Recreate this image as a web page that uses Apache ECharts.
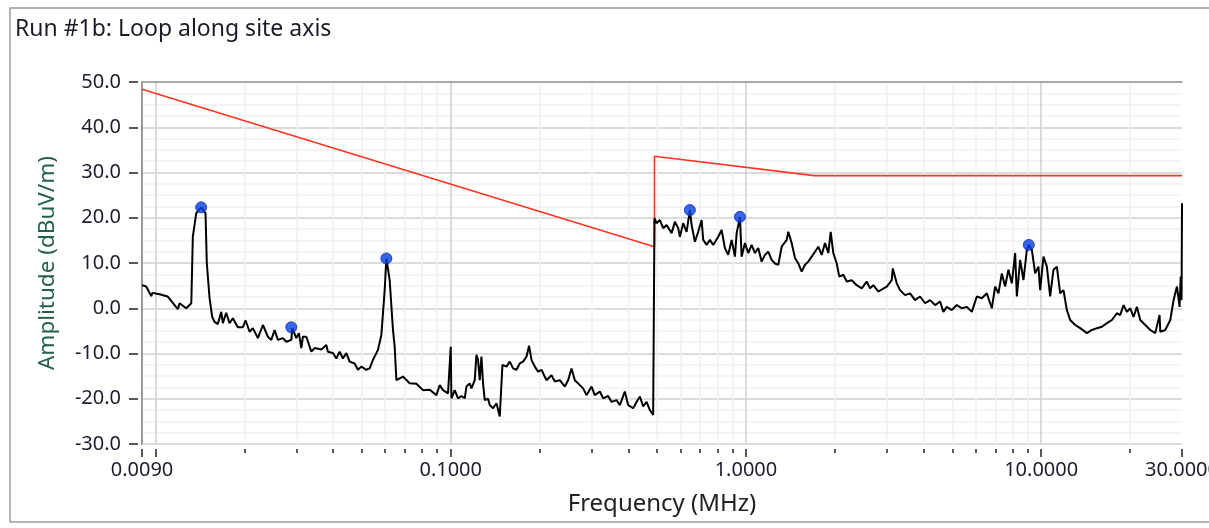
<!DOCTYPE html>
<html>
<head>
<meta charset="utf-8">
<script src="https://cdn.jsdelivr.net/npm/echarts@6/dist/echarts.min.js"></script>
<style>
  html, body { margin: 0; padding: 0; background: #fff; overflow: hidden; }
  #chart { width: 1209px; height: 528px; }
</style>
</head>
<body>
<div id="chart"></div>
<script>
// measured trace (MHz / dBuV/m)
const traceFreq = [
  0.009, 0.0093, 0.00967, 0.00977, 0.01032, 0.01099, 0.0119, 0.01206, 0.01271, 0.01322,
  0.01338, 0.01374, 0.01428, 0.01477, 0.01492, 0.01524, 0.01556, 0.01585, 0.01626, 0.0167,
  0.01691, 0.01736, 0.01782, 0.01828, 0.01901, 0.01977, 0.02019, 0.02083, 0.02137, 0.02222,
  0.02311, 0.02403, 0.02467, 0.02532, 0.02598, 0.02701, 0.02774, 0.02884, 0.02907, 0.02999,
  0.0306, 0.03118, 0.03157, 0.03243, 0.03372, 0.0346, 0.03645, 0.0379, 0.03838, 0.0399,
  0.04097, 0.04205, 0.04314, 0.0443, 0.04546, 0.04727, 0.0485, 0.04981, 0.05179, 0.05314,
  0.05453, 0.05669, 0.05822, 0.05974, 0.06054, 0.06212, 0.06374, 0.06459, 0.06546, 0.06892,
  0.07262, 0.07651, 0.08056, 0.08488, 0.08944, 0.09177, 0.09417, 0.09543, 0.09791, 0.1,
  0.10055, 0.10317, 0.10586, 0.10871, 0.11155, 0.11304, 0.11599, 0.11754, 0.1206, 0.12221,
  0.12375, 0.1254, 0.12708, 0.12868, 0.1304, 0.1338, 0.13558, 0.13912, 0.14286, 0.14659,
  0.14855, 0.14971, 0.15446, 0.15849, 0.16263, 0.167, 0.17136, 0.17583, 0.18056, 0.18426,
  0.18775, 0.19265, 0.19767, 0.20299, 0.21107, 0.21947, 0.2252, 0.23416, 0.24348, 0.24983,
  0.25655, 0.26324, 0.27011, 0.28086, 0.28841, 0.29989, 0.30772, 0.31997, 0.32831, 0.34138,
  0.35056, 0.36451, 0.37402, 0.38891, 0.39906, 0.41494, 0.4261, 0.43722, 0.44863, 0.46069,
  0.47271, 0.485, 0.49,
  0.49, 0.4981, 0.5111, 0.5244, 0.5385, 0.56, 0.5746, 0.5896, 0.5974, 0.613,
  0.6295, 0.6459, 0.6546, 0.6717, 0.6892, 0.7077, 0.7166, 0.7359, 0.7551, 0.7748,
  0.8056, 0.8273, 0.8489, 0.871, 0.8945, 0.9178, 0.9301, 0.9543, 0.9671, 0.9923,
  1.0182, 1.0456, 1.0729, 1.1009, 1.1305, 1.16, 1.1902, 1.2222, 1.2541, 1.2869,
  1.3215, 1.3741, 1.3913, 1.4287, 1.466, 1.5043, 1.5447, 1.585, 1.6264, 1.6701,
  1.7137, 1.7584, 1.8057, 1.8528, 1.9012, 1.9371, 1.9768, 2.03, 2.0716, 2.1373,
  2.1948, 2.2821, 2.373, 2.4674, 2.5656, 2.6326, 2.7013, 2.8088, 2.9991, 3.1184,
  3.1429, 3.2425, 3.3272, 3.4596, 3.5972, 3.7404, 3.8893, 4.0441, 4.205, 4.3724,
  4.5464, 4.665, 4.7905, 4.9811, 5.1794, 5.3855, 5.5998, 5.8227, 6.0545, 6.2954,
  6.546, 6.8065, 6.9841, 7.1663, 7.359, 7.5511, 7.7478, 7.9562, 8.1638, 8.2729,
  8.4888, 8.7103, 8.9445, 9.085, 9.3005, 9.5432, 9.7922, 9.923, 10.182, 10.456,
  10.729, 11.009, 11.305, 11.6, 11.902, 12.222, 12.541, 13.041, 13.56, 14.288,
  14.857, 15.449, 16.064, 16.703, 17.368, 18.06, 18.531, 19.015, 19.526, 20.035,
  20.558, 21.111, 21.662, 22.524, 23.421, 24.353, 25.184, 25.322, 26.33, 27.378,
  28.093, 28.848, 29.44, 29.7, 29.9, 30
];
const traceAmp = [
  5.1, 4.8, 2.7, 3.4, 3.1, 2.6, -0.2, 1.1, 0.0, 1.1,
  15.8, 21.0, 22.3, 21.0, 10.0, 2.3, -1.9, -3.0, -3.5, -0.8,
  -3.3, -1.0, -3.3, -2.2, -4.2, -4.2, -2.7, -5.2, -4.4, -6.6,
  -3.7, -6.3, -7.0, -4.8, -7.0, -6.6, -7.4, -7.0, -4.4, -6.6,
  -5.5, -8.8, -6.3, -6.3, -9.6, -8.8, -9.1, -8.1, -9.6, -9.9,
  -11.1, -9.6, -11.1, -9.9, -11.8, -12.2, -13.6, -12.9, -13.6, -13.3,
  -11.4, -9.2, -5.9, 4.0, 11.0, 6.2, -4.8, -8.5, -15.9, -15.1,
  -16.6, -16.7, -18.1, -18.0, -19.2, -17.0, -18.1, -17.7, -18.8, -8.5,
  -19.9, -18.1, -19.9, -19.4, -19.9, -17.3, -16.6, -17.7, -15.9, -10.3,
  -11.4, -15.9, -10.7, -16.6, -20.3, -20.0, -21.4, -22.1, -21.0, -23.9,
  -23.9, -12.5, -12.9, -11.8, -13.3, -13.6, -12.2, -11.8, -10.7, -8.3,
  -11.4, -12.9, -14.0, -13.6, -15.9, -14.8, -16.2, -15.9, -17.3, -15.9,
  -13.3, -15.9, -16.6, -17.7, -19.2, -17.3, -19.2, -18.4, -19.9, -19.4,
  -20.7, -20.3, -21.4, -18.4, -21.4, -22.1, -20.7, -19.5, -21.7, -20.7,
  -22.5, -23.6, -23.6,
  19.9, 18.8, 19.5, 17.7, 18.4, 16.6, 19.1, 17.7, 15.8, 18.8,
  16.9, 21.7, 18.4, 14.7, 16.9, 19.5, 15.1, 14.0, 15.1, 14.0,
  15.8, 17.3, 13.3, 11.8, 15.1, 11.4, 16.6, 20.2, 11.4, 14.4,
  12.2, 14.0, 12.2, 13.3, 10.3, 11.8, 12.5, 10.7, 9.9, 9.6,
  13.6, 15.1, 16.9, 14.4, 11.1, 9.9, 8.1, 9.6, 10.3, 11.4,
  12.5, 13.6, 11.8, 14.4, 12.2, 16.9, 12.2, 9.9, 7.0, 7.4,
  5.9, 6.2, 5.1, 4.4, 5.9, 4.4, 5.1, 3.7, 4.8, 6.2,
  8.8, 5.5, 4.0, 2.9, 3.3, 1.8, 2.6, 1.1, 1.8, 0.7,
  1.5, -0.8, 0.3, -0.4, 0.7, 0.0, 0.3, -0.8, 2.6, 2.2,
  3.3, 0.0, 4.8, 3.3, 7.7, 4.8, 8.5, 5.5, 12.2, 2.6,
  10.7, 6.2, 12.9, 14.0, 12.9, 7.7, 9.2, 4.0, 11.4, 9.2,
  2.6, 8.5, 9.2, 3.3, 4.0, -0.4, -2.6, -3.7, -4.4, -5.5,
  -4.8, -4.4, -4.1, -3.3, -2.6, -1.1, -1.5, 0.7, -0.8, 0.0,
  -1.9, 0.3, -2.6, -3.7, -4.8, -5.5, -1.5, -5.2, -4.8, -2.6,
  1.8, 4.8, 0.3, 7.0, 1.8, 23.2
];

// detected peaks
const peakFreq = [0.01428, 0.02884, 0.06054, 0.6459, 0.9543, 9.085];
const peakAmp = [22.3, -4.2, 11.0, 21.7, 20.2, 14.0];

// limit line
const limitFreq = [0.009, 0.49, 0.49, 1.705, 30];
const limitAmp = [48.4, 13.6, 33.6, 29.3, 29.3];

// x ticks
const majorTicks = [0.009, 0.01, 0.1, 1, 10, 30];
const labelTicks = [0.009, 0.1, 1, 10, 30];
const gridFreqs = [0.01, 0.1, 1, 10];
const minorFreqs = [0.02, 0.03, 0.04, 0.05, 0.06, 0.07, 0.08, 0.09,
  0.2, 0.3, 0.4, 0.5, 0.6, 0.7, 0.8, 0.9,
  2, 3, 4, 5, 6, 7, 8, 9, 20];

const FONT = "Noto Sans";
const X_MIN = 0.009, X_MAX = 30;

function pairs(xs, ys) {
  return xs.map((x, i) => [x, ys[i]]);
}

function logAxis(extra) {
  return Object.assign({
    type: "log",
    logBase: 10,
    min: X_MIN,
    max: X_MAX,
    gridIndex: 0,
    position: "bottom",
    axisLine: { show: false, onZero: false },
    axisTick: { show: false },
    axisLabel: { show: false },
    splitLine: { show: false }
  }, extra);
}

let chart = echarts.init(document.getElementById("chart"), null, { renderer: "canvas" });

let option = {
  animation: false,
  backgroundColor: "#fff",
  textStyle: { fontFamily: FONT },
  grid: { left: 142, right: 27, top: 82, bottom: 84, containLabel: false, outerBoundsMode: "none" },
  graphic: [
    {
      type: "rect",
      shape: { x: 10, y: 8, width: 1230, height: 514 },
      style: { fill: "none", stroke: "#9a9a9a", lineWidth: 1.5 },
      silent: true
    },
    {
      type: "text",
      left: 15,
      top: 18,
      style: { text: "Run #1b: Loop along site axis", fontFamily: FONT, fontSize: 23, fill: "#1d1a28" }
    }
  ],
  xAxis: [
    // main grid lines + axis name
    logAxis({
      name: "Frequency (MHz)",
      nameLocation: "middle",
      nameGap: 48,
      nameTextStyle: { fontFamily: FONT, fontSize: 24, color: "#222" },
      axisTick: { show: false, customValues: gridFreqs },
      splitLine: { show: true, lineStyle: { color: "#cfcfcf", width: 1.5 } }
    }),
    // minor grid lines + minor ticks
    logAxis({
      offset: 5,
      axisTick: { show: true, customValues: minorFreqs, length: 4, lineStyle: { color: "#222", width: 1.5 } },
      splitLine: { show: true, lineStyle: { color: "#f1f1f1", width: 1.5 } }
    }),
    // major ticks + labels
    logAxis({
      offset: 5,
      axisTick: { show: true, customValues: majorTicks, length: 8, lineStyle: { color: "#222", width: 1.5 } },
      axisLabel: {
        show: true,
        customValues: labelTicks,
        margin: 11,
        fontFamily: FONT,
        fontSize: 20,
        color: "#1c1c2c",
        formatter: v => Number(v).toFixed(4)
      }
    }),
    // top border
    logAxis({
      position: "top",
      axisLine: { show: true, onZero: false, lineStyle: { color: "#999", width: 1.5 } }
    })
  ],
  yAxis: [
    {
      type: "value",
      position: "left",
      min: -30,
      max: 50,
      interval: 10,
      name: "Amplitude (dBuV/m)",
      nameLocation: "middle",
      nameGap: 83,
      nameTextStyle: { fontFamily: FONT, fontSize: 22.5, color: "#23604f" },
      axisLine: { show: true, onZero: false, lineStyle: { color: "#9a9a9a", width: 2 } },
      axisTick: { show: false },
      axisLabel: { show: false },
      splitLine: { show: true, lineStyle: { color: "#cfcfcf", width: 1.5 } },
      minorTick: { show: false, splitNumber: 4 },
      minorSplitLine: { show: true, lineStyle: { color: "#f1f1f1", width: 1.5 } }
    },
    {
      type: "value",
      position: "left",
      min: -30,
      max: 50,
      interval: 10,
      offset: 4,
      axisLine: { show: false, onZero: false },
      axisTick: { show: true, length: 9, lineStyle: { color: "#222", width: 1.5 } },
      axisLabel: {
        margin: 17,
        fontFamily: FONT,
        fontSize: 20,
        color: "#1c1c2c",
        formatter: v => v.toFixed(1)
      },
      splitLine: { show: false }
    }
  ],
  series: [
    {
      name: "limit",
      type: "line",
      xAxisIndex: 0,
      yAxisIndex: 0,
      data: pairs(limitFreq, limitAmp),
      showSymbol: false,
      lineStyle: { color: "#ff3322", width: 1.6 },
      z: 3
    },
    {
      name: "trace",
      type: "line",
      xAxisIndex: 0,
      yAxisIndex: 0,
      data: pairs(traceFreq, traceAmp),
      showSymbol: false,
      lineStyle: { color: "#000", width: 2 },
      z: 4
    },
    {
      name: "peaks",
      type: "scatter",
      xAxisIndex: 0,
      yAxisIndex: 0,
      data: pairs(peakFreq, peakAmp),
      symbolSize: 11,
      itemStyle: { color: "#0640e6", borderColor: "#0a2fa8", borderWidth: 1 },
      z: 5
    }
  ]
};

chart.setOption(option);
</script>
</body>
</html>
